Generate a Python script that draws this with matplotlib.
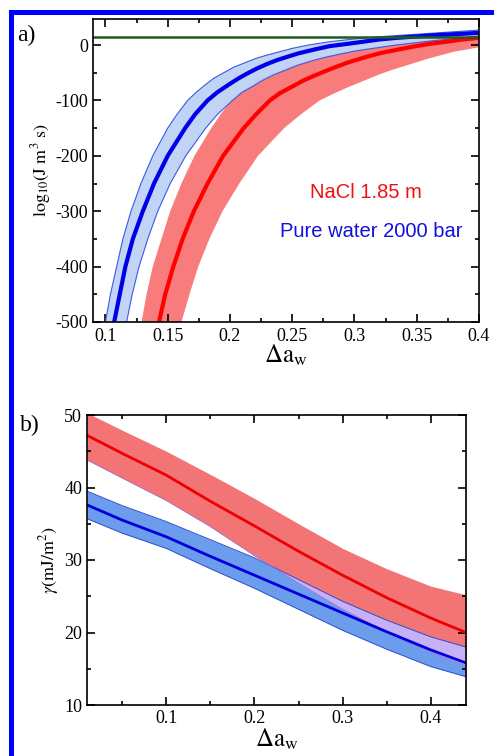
import numpy as np
import matplotlib
matplotlib.use("Agg")
import matplotlib.pyplot as plt
from matplotlib.patches import Rectangle
from matplotlib.ticker import MultipleLocator

plt.rcParams['font.family'] = ['Liberation Serif', 'DejaVu Serif']
plt.rcParams['mathtext.fontset'] = 'stix'
plt.rcParams['axes.unicode_minus'] = False

# ---------------- Panel a data: (delta a_w, log10 J) ----------------
blue_c_y = [-500, -450, -400, -350, -300, -250, -200, -150, -125, -100, -85, -70, -60, -50, -42, -34, -27, -22,
            -15, -8, -2, 2, 6, 10, 13, 15, 17.5, 19, 20.5, 22]
blue_c_x = [0.107, 0.1115, 0.116, 0.122, 0.130, 0.139, 0.150, 0.164, 0.172, 0.182, 0.190, 0.200, 0.207, 0.215,
            0.222, 0.230, 0.238, 0.245, 0.255, 0.268, 0.280, 0.294, 0.307, 0.320, 0.334, 0.347, 0.362, 0.375,
            0.388, 0.400]
blue_u_y = [-500, -450, -400, -350, -300, -250, -200, -150, -125, -100, -85, -72, -60, -50, -40, -32, -24, -18,
            -12, -6, 0, 6, 11, 15, 18, 21, 24, 27]
blue_u_x = [0.100, 0.104, 0.109, 0.114, 0.1205, 0.1285, 0.138, 0.150, 0.1575, 0.166, 0.173, 0.180, 0.187, 0.195,
            0.203, 0.212, 0.221, 0.230, 0.240, 0.250, 0.263, 0.280, 0.300, 0.320, 0.340, 0.360, 0.380, 0.400]
blue_l_y = [-500, -450, -400, -350, -300, -250, -200, -150, -125, -100, -85, -75, -64, -54, -45, -36, -29, -23,
            -17, -11, -6, -1, 3, 7, 10, 13, 16]
blue_l_x = [0.117, 0.1215, 0.127, 0.134, 0.142, 0.152, 0.1645, 0.1805, 0.190, 0.202, 0.210, 0.218, 0.226, 0.235,
            0.245, 0.255, 0.265, 0.275, 0.287, 0.300, 0.315, 0.330, 0.345, 0.360, 0.373, 0.387, 0.400]

red_c_y = [-500, -450, -400, -350, -300, -250, -200, -150, -125, -100, -87, -75, -64, -56, -44, -32, -23, -15,
           -9, -3, 2, 6, 10, 13]
red_c_x = [0.143, 0.148, 0.1545, 0.162, 0.171, 0.182, 0.1945, 0.211, 0.221, 0.232, 0.240, 0.250, 0.259, 0.267,
           0.280, 0.294, 0.307, 0.320, 0.333, 0.347, 0.360, 0.374, 0.387, 0.400]
red_u_y = [-500, -450, -400, -350, -300, -250, -200, -150, -125, -100, -86, -75, -64, -55, -45, -37, -27, -18,
           -10, -2, 4, 9, 14, 19]
red_u_x = [0.129, 0.133, 0.138, 0.145, 0.152, 0.161, 0.1715, 0.185, 0.1925, 0.201, 0.207, 0.215, 0.222, 0.230,
           0.240, 0.250, 0.265, 0.280, 0.300, 0.320, 0.340, 0.360, 0.380, 0.400]
red_l_y = [-500, -450, -400, -350, -300, -250, -200, -150, -125, -100, -88, -76, -64, -53, -45, -38, -31, -24,
           -18, -12, -8, -4]
red_l_x = [0.161, 0.1675, 0.1745, 0.1835, 0.194, 0.2075, 0.2225, 0.2435, 0.257, 0.272, 0.283, 0.295, 0.308,
           0.320, 0.330, 0.340, 0.350, 0.360, 0.370, 0.380, 0.390, 0.400]

green_level = 15

# ---------------- Panel b data: (delta a_w, gamma) ----------------
b_x = [0.01, 0.05, 0.10, 0.15, 0.20, 0.25, 0.30, 0.35, 0.40, 0.44]
red_b_c = [47.2, 44.7, 41.7, 38.1, 34.7, 31.2, 27.9, 24.8, 22.0, 20.0]
red_b_u = [50.3, 47.9, 45.0, 41.8, 38.5, 35.0, 31.6, 28.8, 26.4, 25.2]
red_b_l = [43.8, 41.3, 38.2, 34.6, 30.6, 26.8, 23.2, 20.1, 17.3, 15.4]
blue_b_c = [37.6, 35.5, 33.2, 30.5, 27.9, 25.3, 22.7, 20.1, 17.6, 15.8]
blue_b_u = [39.5, 37.5, 35.3, 32.8, 30.3, 27.3, 24.3, 21.7, 19.4, 18.0]
blue_b_l = [35.7, 33.7, 31.6, 28.8, 26.1, 23.2, 20.3, 17.7, 15.3, 13.9]

fig = plt.figure(figsize=(4.94, 7.56), dpi=100)

# blue frame
fig.add_artist(Rectangle((9/494, 741/756), 1 - 9/494, 5/756, transform=fig.transFigure,
                         facecolor='#0000ff', edgecolor='none'))
fig.add_artist(Rectangle((9/494, 0), 5/494, 746/756, transform=fig.transFigure,
                         facecolor='#0000ff', edgecolor='none'))

def style_axes(ax):
    ax.tick_params(which='both', direction='in', top=True, right=True, labelsize=13, width=1.2)
    ax.tick_params(which='major', length=6)
    ax.tick_params(which='minor', length=3)
    for s in ax.spines.values():
        s.set_linewidth(1.2)

# ---------------- Panel a ----------------
axa = fig.add_axes([93/494, 1 - 322/756, (479 - 93)/494, (322 - 19)/756])
axa.fill(np.concatenate([red_u_x, red_l_x[::-1]]), np.concatenate([red_u_y, red_l_y[::-1]]),
         color='#f87c7c', lw=0)
axa.fill(np.concatenate([blue_u_x, blue_l_x[::-1]]), np.concatenate([blue_u_y, blue_l_y[::-1]]),
         color='#bcd0f4', lw=0, alpha=0.9)
axa.plot(blue_u_x, blue_u_y, color='#3a5ae6', lw=0.8)
axa.plot(blue_l_x, blue_l_y, color='#3a5ae6', lw=0.8)
axa.plot(red_c_x, red_c_y, color='#ff0000', lw=3)
axa.plot(blue_c_x, blue_c_y, color='#0000e8', lw=3)
axa.axhline(green_level, color='#1f5c1f', lw=1.8)
axa.set_xlim(0.09, 0.4)
axa.set_ylim(-500, 47)
axa.xaxis.set_minor_locator(MultipleLocator(0.025))
axa.yaxis.set_major_locator(MultipleLocator(100))
axa.yaxis.set_minor_locator(MultipleLocator(50))
axa.set_xticks([0.1, 0.15, 0.2, 0.25, 0.3, 0.35, 0.4])
axa.set_xticklabels(['0.1', '0.15', '0.2', '0.25', '0.3', '0.35', '0.4'])
style_axes(axa)
axa.tick_params(axis='x', pad=4)
axa.set_xlabel(r'$\Delta\mathrm{a}_\mathrm{w}$', fontsize=18, labelpad=-1)
axa.set_ylabel(r'$\mathrm{log}_{10}(\mathrm{J\ m}^{3}\ \mathrm{s})$', fontsize=13, labelpad=2)
axa.text(0.707, 0.426, 'NaCl 1.85 m', transform=axa.transAxes, color='#ee1111',
         fontsize=14.5, family=['Liberation Sans', 'DejaVu Sans'], ha='center', va='center')
axa.text(0.72, 0.30, 'Pure water 2000 bar', transform=axa.transAxes, color='#1111dd',
         fontsize=14.5, family=['Liberation Sans', 'DejaVu Sans'], ha='center', va='center')
fig.text(17/494, 1 - 35/756, 'a)', fontsize=17, va='center', ha='left')

# ---------------- Panel b ----------------
axb = fig.add_axes([87/494, 1 - 705/756, (466 - 87)/494, (705 - 415)/756])
bx = np.array(b_x)
ru, rl = np.array(red_b_u), np.array(red_b_l)
bu, bl = np.array(blue_b_u), np.array(blue_b_l)
axb.fill_between(bx, rl, ru, color='#f27474', lw=0)
axb.fill_between(bx, bl, bu, color='#6c9cec', lw=0)
ov_lo = np.maximum(rl, bl)
ov_hi = np.minimum(ru, bu)
axb.fill_between(bx, ov_lo, ov_hi, where=ov_hi > ov_lo, interpolate=True, color='#c8b0f6', lw=0)
axb.plot(bx, bu, color='#3050d0', lw=0.7)
axb.plot(bx, bl, color='#3050d0', lw=0.7)
axb.plot(bx, rl, color='#a070d0', lw=0.6)
axb.plot(bx, red_b_c, color='#ee0000', lw=2)
axb.plot(bx, blue_b_c, color='#0000dd', lw=2)
axb.set_xlim(0.01, 0.44)
axb.set_ylim(10, 50)
axb.set_xticks([0.1, 0.2, 0.3, 0.4])
axb.set_xticklabels(['0.1', '0.2', '0.3', '0.4'])
axb.xaxis.set_minor_locator(MultipleLocator(0.05))
axb.yaxis.set_major_locator(MultipleLocator(10))
axb.yaxis.set_minor_locator(MultipleLocator(5))
style_axes(axb)
axb.set_xlabel(r'$\Delta\mathrm{a}_\mathrm{w}$', fontsize=18, labelpad=0)
axb.set_ylabel(r'$\gamma(\mathrm{mJ/m}^{2})$', fontsize=13, labelpad=2)
fig.text(20/494, 1 - 425/756, 'b)', fontsize=17, va='center', ha='left')

fig.savefig('out.png', dpi=100)
